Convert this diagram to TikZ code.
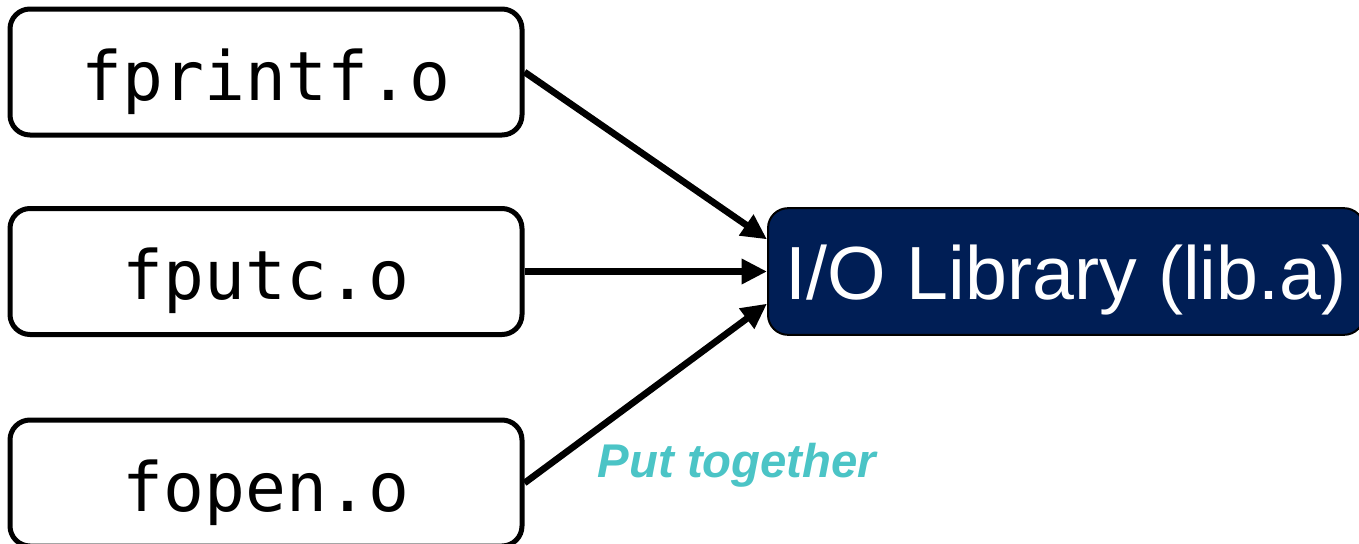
\documentclass[tikz,border=0pt]{standalone}
\usepackage{fontspec}
\setmainfont{Liberation Sans}
\newfontfamily\codefont{DejaVu Sans Mono}
\usetikzlibrary{arrows.meta,calc}
\definecolor{libnavy}{HTML}{001E55}
\definecolor{noteteal}{HTML}{4BC4C6}
\tikzset{
  objbox/.style={draw=black, line width=3.75pt, rounded corners=15pt, fill=white,
    minimum width=384pt, minimum height=94.5pt, inner sep=0pt,
    text height=42pt, text depth=0pt,
    font=\codefont\fontsize{51}{51}\selectfont},
  libbox/.style={draw=black, line width=1.5pt, rounded corners=15pt, fill=libnavy,
    text=white, minimum width=447pt, minimum height=95pt, inner sep=0pt,
    text height=42.5pt, text depth=0pt,
    font=\fontsize{56.5}{56.5}\selectfont},
  link/.style={line width=5pt, -{Triangle[length=19pt, width=18pt]}},
  note/.style={text=noteteal, font=\bfseries\itshape\fontsize{35.5}{35.5}\selectfont, inner sep=0pt}
}
\begin{document}
\begin{tikzpicture}[x=0.75pt, y=-0.75pt]
  \useasboundingbox (0,0) rectangle (1359,543);
  % object files
  \node[objbox] (fprintf) at (266,72)    {fprintf.o};
  \node[objbox] (fputc)   at (266,271.5) {fputc.o};
  \node[objbox] (fopen)   at (266,483)   {fopen.o};
  % archive
  \node[libbox] (lib) at (1066,271.5) {I/O Library (lib.a)};
  % connectors
  \draw[link] (fprintf.east) -- ($(lib.north west)!0.25!(lib.south west)$);
  \draw[link] (fputc.east) -- (lib.west);
  \draw[link] (fopen.east) -- ($(lib.north west)!0.75!(lib.south west)$);
  % label
  \node[note, anchor=base] (put) at (737,477) {Put together};
\end{tikzpicture}
\end{document}
